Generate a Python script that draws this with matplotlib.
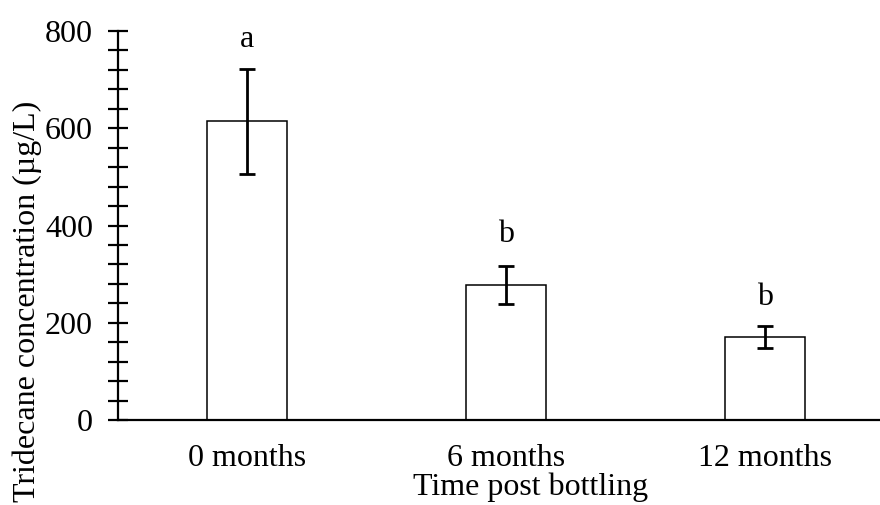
import matplotlib
matplotlib.use('Agg')
import matplotlib.pyplot as plt
from matplotlib.ticker import MultipleLocator

plt.rcParams['font.family'] = ['Liberation Serif', 'DejaVu Serif']
plt.rcParams['font.size'] = 23

times = ['0 months', '6 months', '12 months']
conc = [614, 278, 171]
err = [108, 39, 22]
letters = ['a', 'b', 'b']
letter_y = [782, 382, 252]

fig = plt.figure(figsize=(8.8, 5.05), dpi=100)
ax = fig.add_axes([0.134, 0.168, 0.866, 0.7706])

x = range(len(times))
ax.bar(x, conc, width=0.31, color='white', edgecolor='black', linewidth=1.1, zorder=2)
ax.errorbar(x, conc, yerr=err, fmt='none', ecolor='black', elinewidth=2,
            capsize=6, capthick=2, zorder=3)
for xi, lab, ly in zip(x, letters, letter_y):
    ax.text(xi, ly, lab, ha='center', va='center')

ax.set_xlim(-0.5, 2.445)
ax.set_ylim(0, 800)
ax.set_xticks(list(x))
ax.set_xticklabels(times)
ax.yaxis.set_major_locator(MultipleLocator(200))
ax.yaxis.set_minor_locator(MultipleLocator(40))

for s in ['top', 'right']:
    ax.spines[s].set_visible(False)
ax.spines['left'].set_linewidth(1.6)
ax.spines['bottom'].set_linewidth(1.6)

ax.tick_params(axis='y', which='both', direction='inout', length=14, width=1.6, pad=11)
ax.tick_params(axis='x', length=0, pad=17)

ax.set_ylabel('Tridecane concentration (µg/L)')
ax.yaxis.set_label_coords(-0.1, 0.304)
ax.set_xlabel('Time post bottling')
ax.xaxis.set_label_coords(0.542, -0.135)

fig.savefig('out.png', dpi=100)
